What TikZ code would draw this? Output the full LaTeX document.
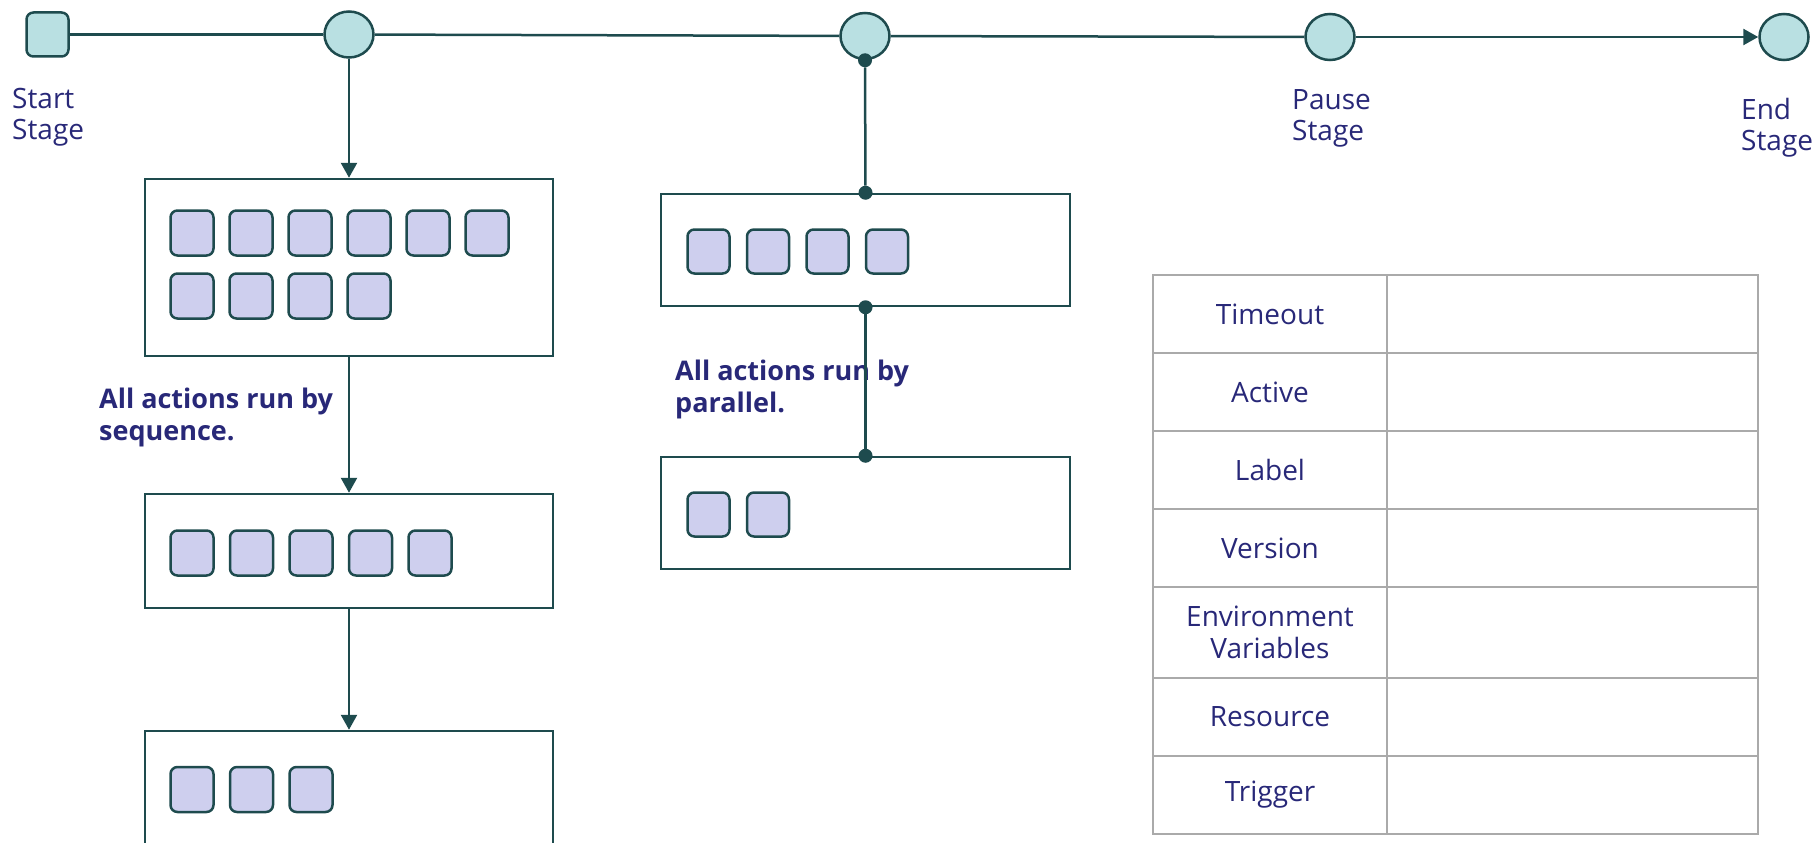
\documentclass[tikz,border=0pt]{standalone}
\usepackage{fontspec}
\setmainfont{Open Sans}
\usetikzlibrary{arrows.meta,shapes.geometric}
\definecolor{lnC}{RGB}{30,75,78}
\definecolor{stageC}{RGB}{185,224,226}
\definecolor{actC}{RGB}{206,207,238}
\definecolor{txtC}{RGB}{40,40,120}
\definecolor{gridC}{RGB}{170,170,170}
\begin{document}
\begin{tikzpicture}[x=1pt,y=-1pt,
  stage/.style={ellipse,draw=lnC,fill=stageC,line width=2.5pt,minimum width=49pt,minimum height=46pt,inner sep=0pt},
  startbox/.style={rectangle,rounded corners=7pt,draw=lnC,fill=stageC,line width=2.5pt,minimum width=42pt,minimum height=44pt,inner sep=0pt},
  grp/.style={rectangle,draw=lnC,line width=2.5pt,minimum width=408pt,inner sep=0pt},
  act/.style={rectangle,rounded corners=7pt,draw=lnC,fill=actC,line width=2.5pt,minimum width=43pt,minimum height=45pt,inner sep=0pt},
  pact/.style={act,minimum width=42pt,minimum height=44pt},
  dotn/.style={circle,fill=lnC,minimum size=14pt,inner sep=0pt},
  conn/.style={draw=lnC,line width=2.5pt},
  arr/.style={conn,-{Triangle[length=15pt,width=16pt]}},
  lbl/.style={font=\fontsize{28}{31}\selectfont,text=txtC,align=left,inner sep=0pt},
  note/.style={font=\bfseries\fontsize{27}{32}\selectfont,text=txtC,align=left,inner sep=0pt},
  tcell/.style={rectangle,draw=gridC,line width=1.5pt,minimum width=234pt,inner sep=0pt,font=\fontsize{28}{32}\selectfont,text=txtC,align=center},
  vcell/.style={rectangle,draw=gridC,line width=1.5pt,minimum width=371pt,inner sep=0pt}
]
\clip (0,0) rectangle (1813,843);

% stage nodes
\node[startbox] (start) at (47.5,34.5) {};
\node[stage] (c1) at (349,34.5) {};
\node[stage] (c2) at (865,36) {};
\node[stage] (pause) at (1330,37) {};
\node[stage] (endc) at (1784,37) {};

\node[lbl,anchor=base west] (lstart) at (12,139) {Start\\Stage};
\node[lbl,anchor=base west] (lpause) at (1292,140) {Pause\\Stage};
\node[lbl,anchor=base west] (lend) at (1741,150) {End\\Stage};

% sequence groups
\node[grp,minimum height=177pt] (box1) at (349,267.5) {};
\node[grp,minimum height=114pt] (box2) at (349,551) {};
\node[grp,minimum height=160pt] (box3) at (349,811) {};
\foreach \i in {0,...,5} \node[act] (sa\i) at (192+59*\i,233) {};
\foreach \i in {0,...,3} \node[act] (sb\i) at (192+59*\i,296) {};
\foreach \i in {0,...,4} \node[act] (sc\i) at (192+59.5*\i,553) {};
\foreach \i in {0,...,2} \node[act] (sd\i) at (192+59.5*\i,789.5) {};

% parallel groups
\node[grp,minimum width=409pt,minimum height=112pt] (pbox1) at (865.5,250) {};
\node[grp,minimum width=409pt,minimum height=112pt] (pbox2) at (865.5,513) {};
\foreach \i in {0,...,3} \node[pact] (pa\i) at (708.5+59.5*\i,251.5) {};
\foreach \i in {0,...,1} \node[pact] (pb\i) at (708.5+59.5*\i,514.5) {};

\node[note,anchor=base west] (nseq) at (99,440) {All actions run by\\sequence.};
\node[note,anchor=base west] (npar) at (675,412) {All actions run by\\parallel.};

% connectors
\draw[conn] (start) -- (c1);
\draw[conn] (c1) -- (c2);
\draw[conn] (c2) -- (pause);
\draw[arr] (pause) -- (endc);
\draw[arr] (c1) -- (box1);
\draw[arr] (box1) -- (box2);
\draw[arr] (box2) -- (box3);

\node[dotn] (d1) at (c2.south) {};
\node[dotn] (d2) at (pbox1.north) {};
\node[dotn] (d3) at (pbox1.south) {};
\node[dotn] (d4) at (pbox2.north) {};
\draw[conn] (d1) -- (d2);
\draw[conn] (d3) -- (d4);

% property table
\node[tcell,minimum height=78pt] (t1) at (1270,314) {Timeout};
\node[tcell,minimum height=78pt] (t2) at (1270,392) {Active};
\node[tcell,minimum height=78pt] (t3) at (1270,470) {Label};
\node[tcell,minimum height=78pt] (t4) at (1270,548) {Version};
\node[tcell,minimum height=91pt] (t5) at (1270,632.5) {Environment\\Variables};
\node[tcell,minimum height=78pt] (t6) at (1270,717) {Resource};
\node[tcell,minimum height=78pt] (t7) at (1270,795) {Trigger};
\node[vcell,minimum height=78pt] (v1) at (1572.5,314) {};
\node[vcell,minimum height=78pt] (v2) at (1572.5,392) {};
\node[vcell,minimum height=78pt] (v3) at (1572.5,470) {};
\node[vcell,minimum height=78pt] (v4) at (1572.5,548) {};
\node[vcell,minimum height=91pt] (v5) at (1572.5,632.5) {};
\node[vcell,minimum height=78pt] (v6) at (1572.5,717) {};
\node[vcell,minimum height=78pt] (v7) at (1572.5,795) {};
\end{tikzpicture}
\end{document}
